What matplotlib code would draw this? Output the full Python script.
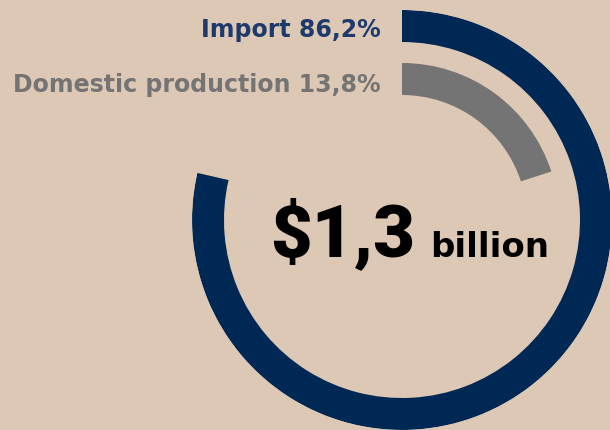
import matplotlib

matplotlib.use("Agg")

import matplotlib.pyplot as plt
import numpy as np

BG = "#dcc8b4"

# shares as printed on the labels
labels = ["Import", "Domestic production"]
shares = [86.2, 13.8]
# share of the full circle each arc actually sweeps in the picture
arc_sweep = [78.6, 20.0]
ring_radius = [194, 141]
colors = ["#002855", "#747474"]
label_colors = ["#1e3a6c", "#747474"]
total_text = "$1,3"
unit_text = "billion"

W, H = 610, 430
fig = plt.figure(figsize=(W / 100, H / 100), dpi=100)
fig.patch.set_facecolor(BG)

# polar axes: centre at (402, 220) px, outer radius 210 px
cx, cy, R = 402, 220, 210
ax = fig.add_axes(
    [(cx - R) / W, 1 - (cy + R) / H, 2 * R / W, 2 * R / H], projection="polar"
)
ax.set_theta_zero_location("N")
ax.set_theta_direction(-1)
ax.set_ylim(0, R)
ax.set_axis_off()
ax.patch.set_alpha(0)

for r, sweep, col in zip(ring_radius, arc_sweep, colors):
    ax.bar(
        0,
        height=32,
        width=np.deg2rad(sweep / 100 * 360),
        bottom=r - 16,
        align="edge",
        color=col,
        linewidth=0,
    )

label_base = [37, 92]
for lab, val, col, y in zip(labels, shares, label_colors, label_base):
    fig.text(
        381 / W, 1 - y / H,
        f"{lab} {val:.1f}%".replace(".", ","),
        ha="right", va="baseline", fontsize=17, fontweight="bold",
        color=col, family="DejaVu Sans",
    )

fig.text(415 / W, 1 - 256 / H, total_text, ha="right", va="baseline",
         fontsize=52, fontweight="black", fontstyle="normal",
         color="black", family="Roboto")
fig.text(430 / W, 1 - 257 / H, unit_text, ha="left", va="baseline",
         fontsize=24.5, fontweight="bold", color="black", family="DejaVu Sans")

fig.savefig("out.png", dpi=100, facecolor=BG)
